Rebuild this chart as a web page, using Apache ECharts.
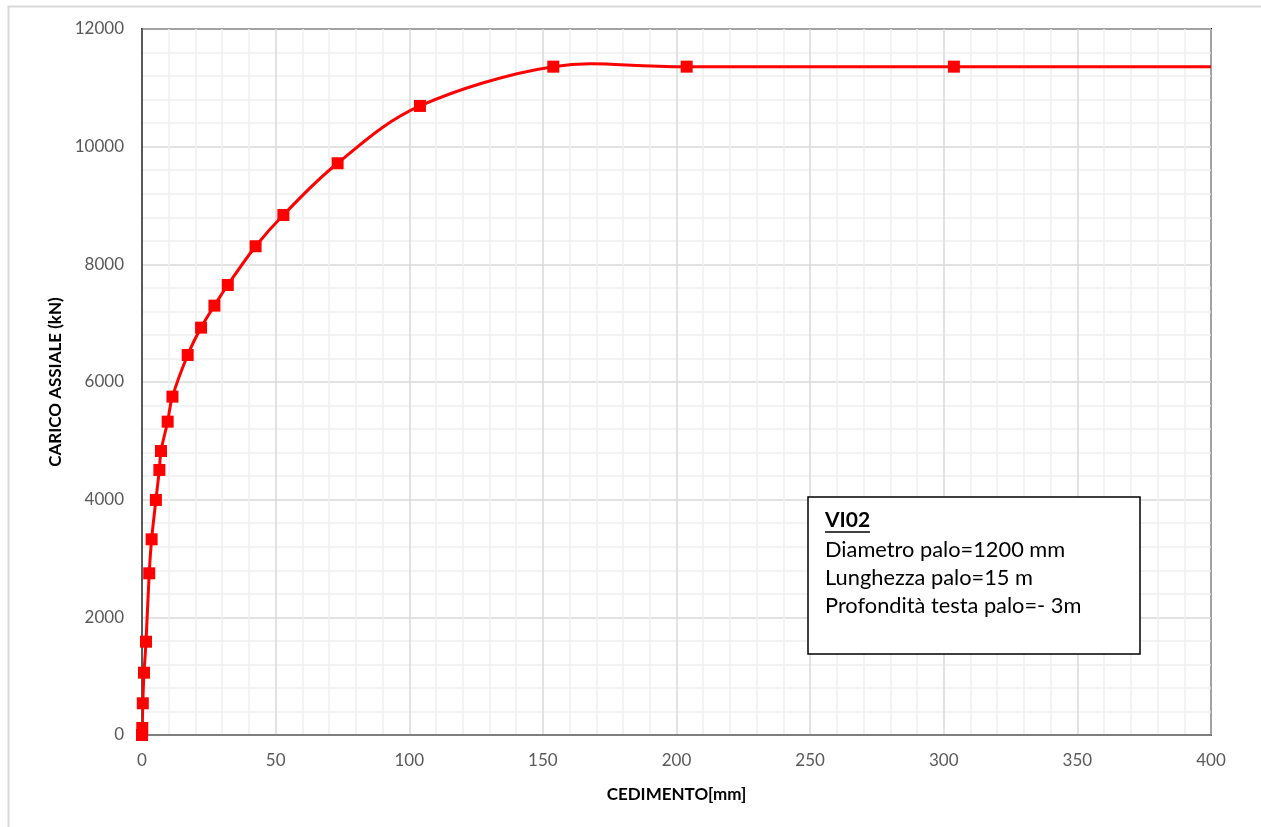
<!DOCTYPE html>
<html>
<head>
<meta charset="utf-8">
<script src="https://cdn.jsdelivr.net/npm/echarts@6/dist/echarts.min.js"></script>
<style>
html,body{margin:0;padding:0;background:#fff;}
#chart{width:1261px;height:827px;}
</style>
</head>
<body>
<div id="chart"></div>
<script>
// Prova di carico assiale - curva carico/cedimento
const cedimento = [0, 0.1, 0.3, 0.75, 1.5, 2.7, 3.6, 5.2, 6.5, 7.1, 9.6, 11.4, 17.1, 22.1, 27.1, 32.1, 42.5, 52.9, 73.2, 104.0, 153.9, 203.8, 303.8];
const carico    = [0, 120, 539, 1059, 1586, 2748, 3326, 3995, 4505, 4827, 5326, 5751, 6459, 6924, 7298, 7649, 8307, 8839, 9718, 10692, 11360, 11360, 11360];
// the curve is carried on to the end of the axis at the last load
const cedimentoFine = 400;

const xTitle = 'CEDIMENTO[mm]';
const yTitle = 'CARICO ASSIALE (kN)';
const infoTitle = 'VI02';
const infoLines = ['Diametro palo=1200 mm', 'Lunghezza palo=15 m', 'Profondità testa palo=- 3m'];

const FONT = 'Lato, "Open Sans", sans-serif';

const markerData = cedimento.map((x, i) => [x, carico[i]]);
const curveData = markerData.concat([[cedimentoFine, carico[carico.length - 1]]]);

// Smoothed curve as a cubic Bezier spline through the points (tension 1/6),
// computed in pixel space from the axis scales.
function renderCurve(params, api) {
  if (params.dataIndex !== 0) return null;
  const p = curveData.map(d => api.coord(d));
  const n = p.length;
  let d = 'M' + p[0][0] + ',' + p[0][1];
  for (let i = 0; i < n - 1; i++) {
    const p0 = p[Math.max(i - 1, 0)], p1 = p[i], p2 = p[i + 1], p3 = p[Math.min(i + 2, n - 1)];
    const c1x = p1[0] + (p2[0] - p0[0]) / 6, c1y = p1[1] + (p2[1] - p0[1]) / 6;
    const c2x = p2[0] - (p3[0] - p1[0]) / 6, c2y = p2[1] - (p3[1] - p1[1]) / 6;
    d += ' C' + c1x + ',' + c1y + ' ' + c2x + ',' + c2y + ' ' + p2[0] + ',' + p2[1];
  }
  return {
    type: 'path',
    shape: {pathData: d},
    style: {fill: 'none', stroke: '#ff0000', lineWidth: 3, lineJoin: 'round'}
  };
}

const chart = echarts.init(document.getElementById('chart'), null, {renderer: 'canvas'});
chart.setOption({
  animation: false,
  backgroundColor: '#fff',
  grid: {
    left: 142, right: 50, top: 29, bottom: 92,
    show: true, borderColor: '#000', borderWidth: 2, backgroundColor: 'transparent'
  },
  xAxis: {
    type: 'value', min: 0, max: 400, interval: 50,
    name: xTitle, nameLocation: 'middle', nameGap: 51,
    nameTextStyle: {fontFamily: FONT, fontWeight: 'bold', fontSize: 17, color: '#000'},
    axisLine: {show: true, onZero: false, lineStyle: {color: '#7f7f7f', width: 2}},
    axisTick: {show: false},
    axisLabel: {fontFamily: FONT, fontSize: 17, color: '#595959', margin: 17},
    splitLine: {show: true, lineStyle: {color: '#d9d9d9', width: 1.5}},
    minorTick: {show: false, splitNumber: 5},
    minorSplitLine: {show: true, lineStyle: {color: '#efefef', width: 1.5}}
  },
  yAxis: {
    type: 'value', min: 0, max: 12000, interval: 2000,
    name: yTitle, nameLocation: 'middle', nameGap: 78, nameRotate: 90,
    nameTextStyle: {fontFamily: FONT, fontWeight: 'bold', fontSize: 17, color: '#000'},
    axisLine: {show: true, onZero: false, lineStyle: {color: '#595959', width: 2}},
    axisTick: {show: false},
    axisLabel: {fontFamily: FONT, fontSize: 17, color: '#595959', margin: 18,
                formatter: v => String(v)},
    splitLine: {show: true, lineStyle: {color: '#d9d9d9', width: 1.5}},
    minorTick: {show: false, splitNumber: 5},
    minorSplitLine: {show: true, lineStyle: {color: '#efefef', width: 1.5}}
  },
  series: [
    {
      type: 'custom',
      data: curveData,
      renderItem: renderCurve,
      clip: true,
      silent: true,
      z: 4
    },
    {
      type: 'scatter',
      data: markerData,
      symbol: 'rect',
      symbolSize: 12,
      itemStyle: {color: '#ff0000', borderWidth: 0, opacity: 1},
      z: 5
    }
  ],
  graphic: [
    {
      type: 'rect', silent: true, z: -10,
      shape: {x: 8.5, y: 6.5, width: 1270, height: 840},
      style: {fill: 'none', stroke: '#d9d9d9', lineWidth: 2}
    },
    {type: 'rect', z: 100, shape: {x: 808, y: 497, width: 332, height: 157},
     style: {fill: '#fff', stroke: '#000', lineWidth: 1.5}},
    {type: 'text', z: 101, x: 825, y: 510,
     style: {text: infoTitle, fontFamily: FONT, fontWeight: 'bold', fontSize: 21, fill: '#000'}},
    {type: 'line', z: 101, shape: {x1: 825, y1: 532, x2: 870, y2: 532},
     style: {stroke: '#000', lineWidth: 1.6}},
    {type: 'text', z: 101, x: 825, y: 536,
     style: {text: infoLines.join('\n'), fontFamily: FONT, fontSize: 21.8, lineHeight: 28, fill: '#000'}}
  ]
});
</script>
</body>
</html>
